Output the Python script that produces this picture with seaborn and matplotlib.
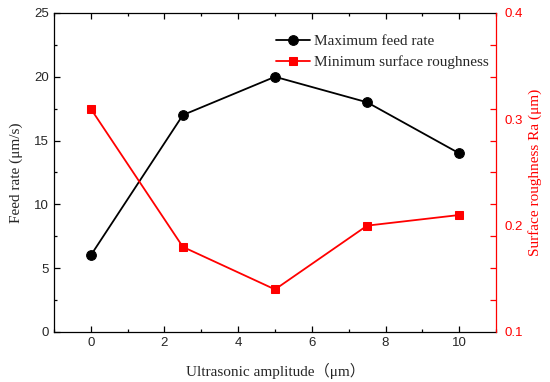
import numpy as np
import pandas as pd
import matplotlib
matplotlib.use("Agg")
import matplotlib.pyplot as plt
from matplotlib.ticker import MultipleLocator, FixedLocator
import seaborn as sns

# data
amplitude = [0, 2.5, 5, 7.5, 10]
feed_rate = [6, 17, 20, 18, 14]
roughness = [0.31, 0.18, 0.14, 0.20, 0.21]

sns.set_style("ticks")
plt.rcParams['font.family'] = ['Liberation Sans', 'DejaVu Sans']

fig = plt.figure(figsize=(5.5, 3.82), dpi=100)
ax = fig.add_axes([0.098, 0.131, 0.804, 0.835])
ax2 = ax.twinx()

sns.lineplot(x=amplitude, y=feed_rate, ax=ax, color="black", marker="o",
             markersize=7, linewidth=1.3, markeredgecolor="black",
             label="Maximum feed rate", legend=False)
sns.lineplot(x=amplitude, y=roughness, ax=ax2, color="red", marker="s",
             markersize=6, linewidth=1.3, markeredgecolor="red",
             label="Minimum surface roughness", legend=False)

ax.set_xlim(-1, 11)
ax.set_ylim(0, 25)
ax2.set_ylim(0.1, 0.4)

ax.xaxis.set_major_locator(MultipleLocator(2))
ax.xaxis.set_minor_locator(MultipleLocator(1))
ax.yaxis.set_major_locator(MultipleLocator(5))
ax.yaxis.set_minor_locator(MultipleLocator(2.5))
ax.tick_params(which="both", direction="in", top=True, right=False,
               labelsize=9.5, color="black")
ax.tick_params(which="major", length=4, width=0.9)
ax.tick_params(which="minor", length=2.5, width=0.9)

# right axis: labels every 0.1, ticks mirror the left axis ones
ax2.yaxis.set_major_locator(FixedLocator([0.1, 0.2, 0.3, 0.4]))
ax2.yaxis.set_minor_locator(FixedLocator(list(np.linspace(0.1, 0.4, 11))))
ax2.tick_params(which="major", length=0, labelsize=9.5, labelcolor="red", pad=6)
ax2.tick_params(which="minor", direction="in", length=4, width=0.9, color="red")

for s in ["left", "bottom", "top"]:
    ax.spines[s].set_color("black")
    ax.spines[s].set_linewidth(0.9)
    ax2.spines[s].set_visible(False)
ax.spines["right"].set_visible(False)
ax2.spines["right"].set_color("red")
ax2.spines["right"].set_linewidth(0.9)

ax.set_xlabel("Ultrasonic amplitude\uff08\u03bcm\uff09", family=["Liberation Serif", "Noto Sans CJK SC"],
              fontsize=11, labelpad=10)
ax.set_ylabel("Feed rate (\u03bcm/s)", family="Liberation Serif", fontsize=11, labelpad=8)
ax2.set_ylabel("Surface roughness Ra (\u03bcm)", family="Liberation Serif", fontsize=11,
               color="red", labelpad=4)

h1, l1 = ax.get_legend_handles_labels()
h2, l2 = ax2.get_legend_handles_labels()
ax2.legend(h1 + h2, l1 + l2, loc="upper right", bbox_to_anchor=(1.015, 0.975),
           frameon=False, prop={"family": "Liberation Serif", "size": 11},
           handlelength=2.2, handletextpad=0.3, labelspacing=0.45)

fig.savefig("out.png", dpi=100)
